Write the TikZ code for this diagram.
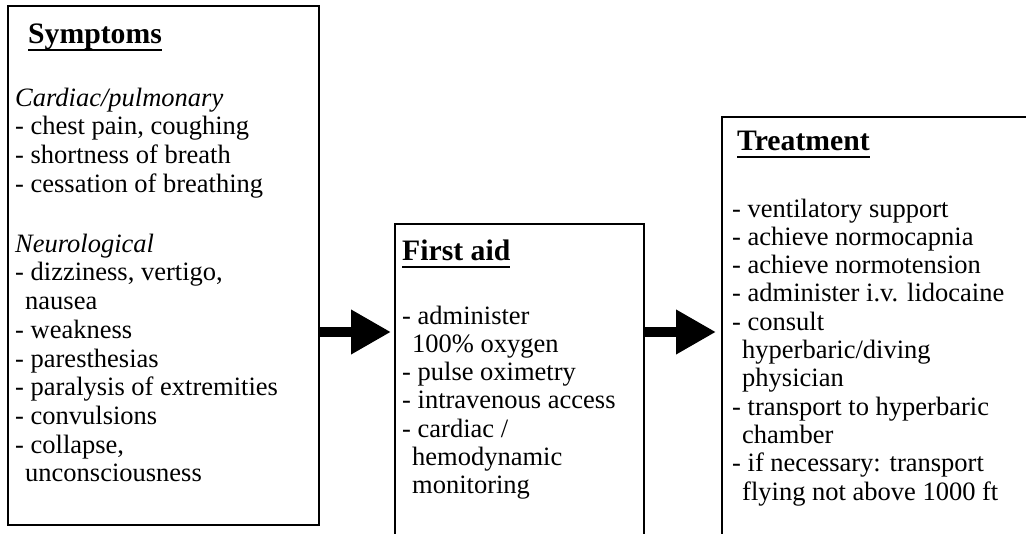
\documentclass[tikz,border=0pt]{standalone}
\usepackage{fontspec}
\setmainfont{Liberation Serif}
\usetikzlibrary{arrows.meta,calc}
\newsavebox\hdbox
\newcommand\hdul[1]{\sbox\hdbox{#1}\rlap{\rule[-7.3pt]{\wd\hdbox}{2.6pt}}\usebox\hdbox}
\newcommand\ci{\hspace*{10pt}}
\tikzset{
  box/.style={draw, line width=1.8pt, anchor=north west, inner sep=0pt, outer sep=0pt},
  head/.style={anchor=base west, inner sep=0pt, font=\fontsize{29.7pt}{34pt}\selectfont\bfseries},
  txt/.style={anchor=north west, inner sep=0pt, align=left, font=\fontsize{26.5pt}{28.3pt}\selectfont},
  symtxt/.style={txt, font=\fontsize{26.5pt}{28.7pt}\selectfont},
  bigarrow/.style={line width=10pt, -{Triangle[length=40pt,width=42pt]}}
}
\begin{document}
\begin{tikzpicture}[x=1pt,y=-1pt]
\useasboundingbox (0,0) rectangle (1026,534);
\clip (0,0) rectangle (1026,534);
% boxes
\node[box, minimum width=311pt, minimum height=519pt] (sym) at (8,6) {};
\node[box, minimum width=249pt, minimum height=330pt] (fa) at (395,224) {};
\node[box, minimum width=340pt, minimum height=440pt] (tr) at (722,117) {};
% Symptoms
\node[head] (symh) at (28,44) {\hdul{Symptoms}};
\node[symtxt] (symc) at (15,86) {\strut\textit{Cardiac/pulmonary}\\- chest pain, coughing\\- shortness of breath\\- cessation of breathing};
\node[symtxt] (symn) at (15,232) {\strut\textit{Neurological}\\- dizziness, vertigo,\\\ci nausea\\- weakness\\- paresthesias\\- paralysis of extremities\\- convulsions\\- collapse,\\\ci unconsciousness};
% First aid
\node[head] (fah) at (402,261) {\hdul{First aid}};
\node[txt] (fat) at (402,304) {\strut - administer\\\ci 100\% oxygen\\- pulse oximetry\\- intravenous access\\- cardiac /\\\ci hemodynamic\\\ci monitoring};
% Treatment
\node[head] (trh) at (737,151) {\hdul{Treatment}};
\node[txt] (trt) at (732,197) {\strut - ventilatory support\\- achieve normocapnia\\- achieve normotension\\- administer i.v. lidocaine\\- consult\\\ci hyperbaric/diving\\\ci physician\\- transport to hyperbaric\\\ci chamber\\- if necessary: transport\\\ci flying not above 1000 ft};
% arrows
\coordinate (ay) at (0,332);
\draw[bigarrow] (sym.east |- ay) -- ($(fa.west |- ay)+(-4,0)$);
\draw[bigarrow] (fa.east |- ay) -- ($(tr.west |- ay)+(-6,0)$);
\end{tikzpicture}
\end{document}
